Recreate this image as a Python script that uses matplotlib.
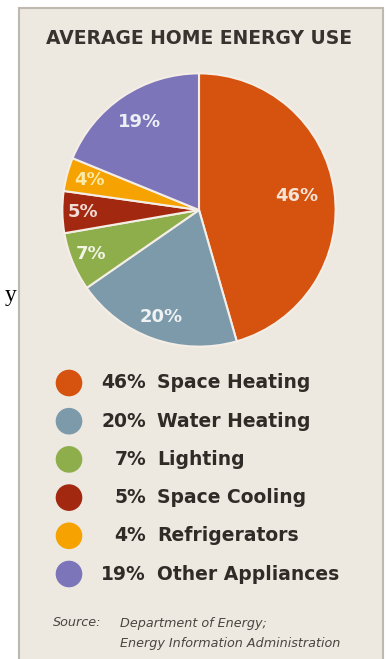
import matplotlib
matplotlib.use("Agg")
import matplotlib.pyplot as plt
from matplotlib.patches import Rectangle
import numpy as np

# data
categories = ["Space Heating", "Water Heating", "Lighting", "Space Cooling", "Refrigerators", "Other Appliances"]
shares = [46, 20, 7, 5, 4, 19]
colors = ["#D5520F", "#7C9AAA", "#8DAE4A", "#A2280F", "#F6A200", "#7C75B9"]
label_colors = ["#F6E4D8", "#EEF2F2", "#F2F4E4", "#F4DCD6", "#FBEAA8", "#EEEEF6"]
label_radius = [0.72, 0.83, 0.85, 0.85, 0.83, 0.78]

W, H = 388, 659
fig = plt.figure(figsize=(W / 100, H / 100), dpi=100)
fig.patch.set_facecolor("white")

# background axes in pixel coordinates (y down)
bg = fig.add_axes([0, 0, 1, 1])
bg.set_xlim(0, W)
bg.set_ylim(H, 0)
bg.axis("off")

bg.add_patch(Rectangle((19, 8), 364, 660, facecolor="#EDE8E0", edgecolor="#BEB8AF", lw=1.5))
bg.text(5, 296, "y", fontsize=17, family="Liberation Serif", color="black", ha="left", va="center")

bg.text(199, 39, "AVERAGE HOME ENERGY USE", fontsize=13.5, family="DejaVu Sans", weight="bold",
        color="#38332E", ha="center", va="center")

# legend rows
row_y = 383 + 38.2 * np.arange(len(categories))
bg.scatter(np.full(len(categories), 69), row_y, s=330, c=colors, edgecolors=colors, lw=1, zorder=3)
for y, pct, cat in zip(row_y, shares, categories):
    bg.text(146, y, f"{pct}%", fontsize=13.5, family="DejaVu Sans", weight="bold",
            color="#2F2B27", ha="right", va="center")
    bg.text(157, y, cat, fontsize=13.5, family="DejaVu Sans", weight="bold",
            color="#2F2B27", ha="left", va="center")

# source note
note = dict(fontsize=9.2, family="DejaVu Sans", style="italic", color="#4A4540", va="center")
bg.text(53, 623, "Source:", **note)
bg.text(120, 623, "Department of Energy;", **note)
bg.text(120, 643, "Energy Information Administration", **note)

# pie
cx, cy, r = 199, 210, 138
ax = fig.add_axes([(cx - r) / W, 1 - (cy + r) / H, 2 * r / W, 2 * r / H])
wedges, _ = ax.pie(shares, colors=colors, startangle=90, counterclock=False,
                   wedgeprops=dict(edgecolor="#F4EEE6", linewidth=1.5))
for w, pct, lc, rr in zip(wedges, shares, label_colors, label_radius):
    mid = np.deg2rad((w.theta1 + w.theta2) / 2)
    ax.text(rr * np.cos(mid), rr * np.sin(mid), f"{pct}%", fontsize=13, family="DejaVu Sans",
            weight="bold", color=lc, ha="center", va="center")
ax.set_xlim(-1.01, 1.01)
ax.set_ylim(-1.01, 1.01)
ax.set_aspect("equal")
ax.axis("off")

fig.savefig("out.png", dpi=100, facecolor="white")
